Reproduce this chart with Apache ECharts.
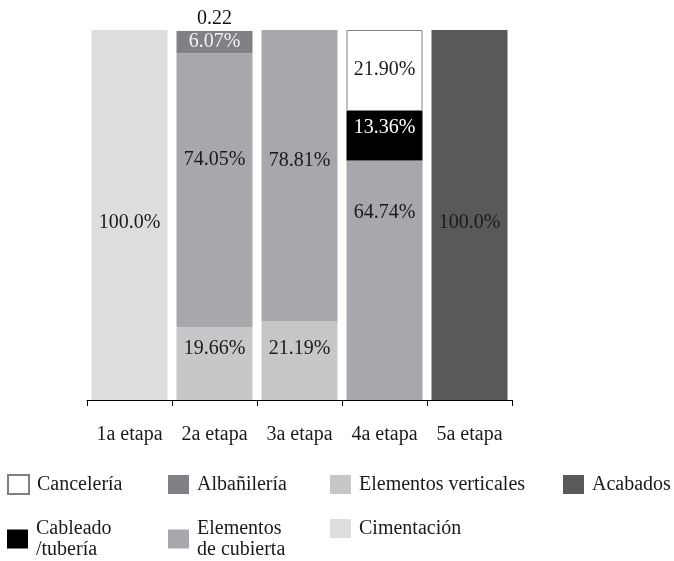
<!DOCTYPE html>
<html>
<head>
<meta charset="utf-8">
<script src="https://cdn.jsdelivr.net/npm/echarts@6.0.0/dist/echarts.min.js"></script>
<style>
  html, body { margin: 0; padding: 0; background: #fff; }
  #chart { width: 674px; height: 561px; }
</style>
</head>
<body>
<div id="chart"></div>
<script>
const categories = ["1a etapa", "2a etapa", "3a etapa", "4a etapa", "5a etapa"];

const cimentacion = [100.0, 0, 0, 0, 0];
const elementosVerticales = [0, 19.66, 21.19, 0, 0];
const elementosCubierta = [0, 74.05, 78.81, 64.74, 0];
const cableado = [0, 0, 0, 13.36, 0];
const albanileria = [0, 6.07, 0, 0, 0];
const canceleria = [0, 0.22, 0, 21.90, 0];
const acabados = [0, 0, 0, 0, 100.0];

const FONT = "Liberation Serif";

// where the value sits inside its own segment (fraction from the top)
const labelY = {
  "Cimentación": [0.52],
  "Elementos verticales": [null, 0.29, 0.34],
  "Elementos de cubierta": [null, 0.39, 0.45, 0.22],
  "Cableado\n/tubería": [null, null, null, 0.34],
  "Albañilería": [null, 0.5],
  "Cancelería": [null, null, null, 0.49],
  "Acabados": [null, null, null, null, 0.52],
};

function pctText(v, name) {
  if (name === "Cancelería" && v < 1) return v.toFixed(2);
  if (v === 100) return "100.0%";
  return v.toFixed(2) + "%";
}

function makeSeries(name, values, color, textColor, border) {
  return {
    name: name,
    type: "bar",
    stack: "total",
    barWidth: 76,
    itemStyle: {
      color: color,
      borderColor: border ? "#7f7f7f" : color,
      borderWidth: border ? 1 : 0,
    },
    data: values.map((v, i) => {
      if (!v) return "-";
      const item = { value: v };
      const pos = (labelY[name] || [])[i];
      if (pos != null) {
        item.label = {
          show: true,
          position: ["50%", pos * 100 + "%"],
          align: "center",
          verticalAlign: "middle",
        };
      } else {
        // tiny remainder shown above the bar
        item.label = { show: true, position: "top", distance: 1, color: "#111" };
        item.itemStyle = { borderWidth: 0 };
      }
      return item;
    }),
    label: {
      show: true,
      formatter: (p) => pctText(p.value, name),
      color: textColor,
      fontFamily: FONT,
      fontSize: 20,
    },
  };
}

const seriesList = [
  makeSeries("Cimentación", cimentacion, "#dcdddf", "#1a1a1a"),
  makeSeries("Elementos verticales", elementosVerticales, "#c6c7c9", "#1a1a1a"),
  makeSeries("Elementos de cubierta", elementosCubierta, "#a7a8ab", "#1a1a1a"),
  makeSeries("Cableado\n/tubería", cableado, "#000000", "#ffffff"),
  makeSeries("Albañilería", albanileria, "#808184", "#f2f2f2"),
  makeSeries("Cancelería", canceleria, "#ffffff", "#1a1a1a", true),
  makeSeries("Acabados", acabados, "#58595b", "#1a1a1a"),
];

const legendSlots = [
  { name: "Cancelería", left: 7, top: 474 },
  { name: "Albañilería", left: 168, top: 474 },
  { name: "Elementos verticales", left: 330, top: 474 },
  { name: "Acabados", left: 563, top: 474 },
  { name: "Cableado\n/tubería", left: 7, top: 518 },
  { name: "Elementos\nde cubierta", left: 168, top: 518, series: "Elementos de cubierta" },
  { name: "Cimentación", left: 330, top: 518 },
];

const legends = legendSlots.map((slot) => ({
  data: [slot.series || slot.name],
  left: slot.left,
  top: slot.top,
  padding: 0,
  orient: "horizontal",
  icon: "rect",
  itemWidth: 21,
  itemHeight: 19,
  selectedMode: false,
  formatter: () => slot.name,
  textStyle: {
    fontFamily: FONT,
    fontSize: 20,
    color: "#1a1a1a",
    lineHeight: 21,
    padding: [0, 0, 0, 3],
  },
}));

const chart = echarts.init(document.getElementById("chart"), null, { renderer: "canvas" });
chart.setOption({
  animation: false,
  backgroundColor: "#ffffff",
  grid: { left: 87, right: 162, top: 30, bottom: 161, containLabel: false },
  legend: legends,
  xAxis: {
    type: "category",
    data: categories,
    axisLine: { lineStyle: { color: "#000", width: 1 } },
    axisTick: { show: true, length: 6, lineStyle: { color: "#000" } },
    axisLabel: {
      interval: 0,
      hideOverlap: false,
      fontFamily: FONT,
      fontSize: 20,
      color: "#1a1a1a",
      margin: 25,
    },
  },
  yAxis: {
    type: "value",
    min: 0,
    max: 100,
    show: false,
  },
  series: seriesList,
});
</script>
</body>
</html>
